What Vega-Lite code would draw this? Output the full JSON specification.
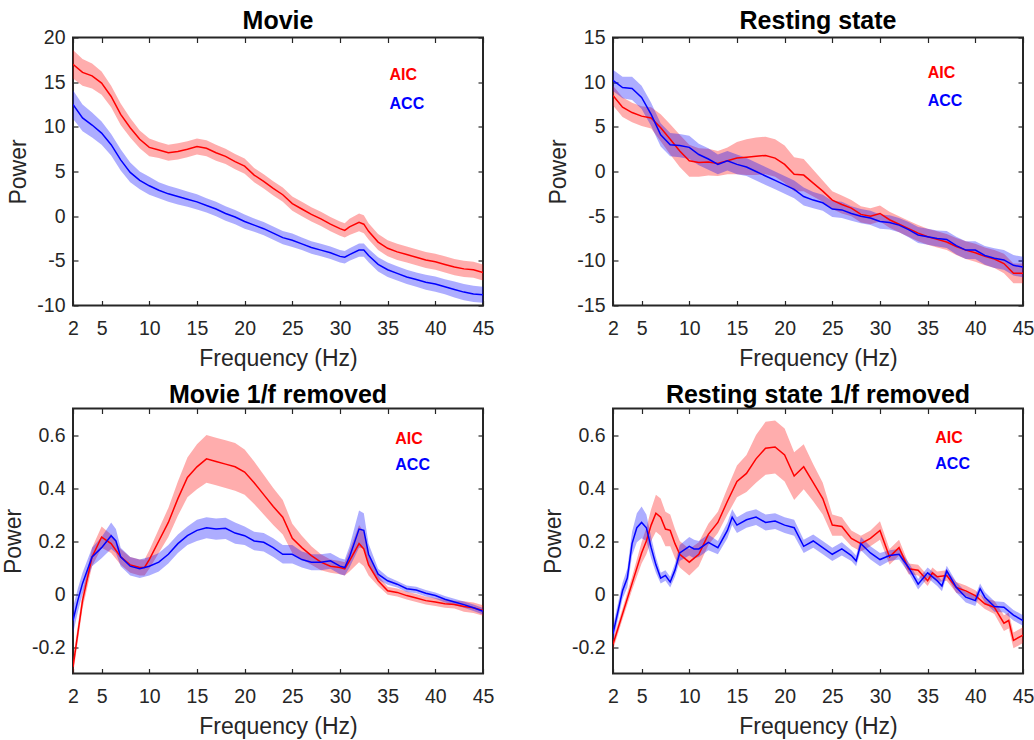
{
"$schema": "https://vega.github.io/schema/vega-lite/v6.json",
"padding": {"left": 1, "top": 7.5, "right": 2, "bottom": 2},
"datasets": {
"mv": [
{"s":"AIC","f":2,"m":17.0,"lo":15.4,"hi":18.6},{"s":"AIC","f":3,"m":16.1,"lo":14.6,"hi":17.6},{"s":"AIC","f":4,"m":15.7,"lo":14.3,"hi":17.1},{"s":"AIC","f":5,"m":14.9,"lo":13.6,"hi":16.2},{"s":"AIC","f":6,"m":13.4,"lo":12.2,"hi":14.6},{"s":"AIC","f":7,"m":11.4,"lo":10.2,"hi":12.6},{"s":"AIC","f":8,"m":9.9,"lo":8.8,"hi":11.0},{"s":"AIC","f":9,"m":8.6,"lo":7.6,"hi":9.6},{"s":"AIC","f":10,"m":7.7,"lo":6.7,"hi":8.7},{"s":"AIC","f":11,"m":7.4,"lo":6.5,"hi":8.3},{"s":"AIC","f":12,"m":7.1,"lo":6.2,"hi":8.0},{"s":"AIC","f":13,"m":7.25,"lo":6.35,"hi":8.15},{"s":"AIC","f":14,"m":7.5,"lo":6.6,"hi":8.4},{"s":"AIC","f":15,"m":7.8,"lo":6.9,"hi":8.7},{"s":"AIC","f":16,"m":7.6,"lo":6.7,"hi":8.5},{"s":"AIC","f":17,"m":7.1,"lo":6.2,"hi":8.0},{"s":"AIC","f":18,"m":6.7,"lo":5.85,"hi":7.55},{"s":"AIC","f":19,"m":6.1,"lo":5.25,"hi":6.95},{"s":"AIC","f":20,"m":5.6,"lo":4.75,"hi":6.45},{"s":"AIC","f":21,"m":4.6,"lo":3.8,"hi":5.4},{"s":"AIC","f":22,"m":3.9,"lo":3.1,"hi":4.7},{"s":"AIC","f":23,"m":3.1,"lo":2.3,"hi":3.9},{"s":"AIC","f":24,"m":2.4,"lo":1.6,"hi":3.2},{"s":"AIC","f":25,"m":1.4,"lo":0.6,"hi":2.2},{"s":"AIC","f":26,"m":0.8,"lo":0.0,"hi":1.6},{"s":"AIC","f":27,"m":0.2,"lo":-0.6,"hi":1.0},{"s":"AIC","f":28,"m":-0.3,"lo":-1.1,"hi":0.5},{"s":"AIC","f":29,"m":-0.9,"lo":-1.7,"hi":-0.1},{"s":"AIC","f":30,"m":-1.4,"lo":-2.2,"hi":-0.6},{"s":"AIC","f":30.5,"m":-1.6,"lo":-2.4,"hi":-0.8},{"s":"AIC","f":31,"m":-1.2,"lo":-2.1,"hi":-0.3},{"s":"AIC","f":32,"m":-0.7,"lo":-1.7,"hi":0.3},{"s":"AIC","f":32.5,"m":-0.9,"lo":-1.9,"hi":0.1},{"s":"AIC","f":33,"m":-1.7,"lo":-2.6,"hi":-0.8},{"s":"AIC","f":34,"m":-2.9,"lo":-3.8,"hi":-2.0},{"s":"AIC","f":35,"m":-3.6,"lo":-4.5,"hi":-2.7},{"s":"AIC","f":36,"m":-4.0,"lo":-4.9,"hi":-3.1},{"s":"AIC","f":37,"m":-4.3,"lo":-5.2,"hi":-3.4},{"s":"AIC","f":38,"m":-4.6,"lo":-5.5,"hi":-3.7},{"s":"AIC","f":39,"m":-4.9,"lo":-5.8,"hi":-4.0},{"s":"AIC","f":40,"m":-5.1,"lo":-6.0,"hi":-4.2},{"s":"AIC","f":41,"m":-5.4,"lo":-6.3,"hi":-4.5},{"s":"AIC","f":42,"m":-5.7,"lo":-6.6,"hi":-4.8},{"s":"AIC","f":43,"m":-5.9,"lo":-6.8,"hi":-5.0},{"s":"AIC","f":44,"m":-6.0,"lo":-6.9,"hi":-5.1},{"s":"AIC","f":45,"m":-6.3,"lo":-7.2,"hi":-5.4},
{"s":"ACC","f":2,"m":12.5,"lo":10.9,"hi":14.1},{"s":"ACC","f":3,"m":11.0,"lo":9.5,"hi":12.5},{"s":"ACC","f":4,"m":10.2,"lo":8.8,"hi":11.6},{"s":"ACC","f":5,"m":9.3,"lo":8.0,"hi":10.6},{"s":"ACC","f":6,"m":8.0,"lo":6.8,"hi":9.2},{"s":"ACC","f":7,"m":6.3,"lo":5.1,"hi":7.5},{"s":"ACC","f":8,"m":4.9,"lo":3.8,"hi":6.0},{"s":"ACC","f":9,"m":4.0,"lo":3.0,"hi":5.0},{"s":"ACC","f":10,"m":3.4,"lo":2.4,"hi":4.4},{"s":"ACC","f":11,"m":2.9,"lo":2.0,"hi":3.8},{"s":"ACC","f":12,"m":2.5,"lo":1.6,"hi":3.4},{"s":"ACC","f":13,"m":2.2,"lo":1.3,"hi":3.1},{"s":"ACC","f":14,"m":1.9,"lo":1.05,"hi":2.75},{"s":"ACC","f":15,"m":1.6,"lo":0.75,"hi":2.45},{"s":"ACC","f":16,"m":1.2,"lo":0.4,"hi":2.0},{"s":"ACC","f":17,"m":0.8,"lo":0.0,"hi":1.6},{"s":"ACC","f":18,"m":0.3,"lo":-0.5,"hi":1.1},{"s":"ACC","f":19,"m":-0.1,"lo":-0.9,"hi":0.7},{"s":"ACC","f":20,"m":-0.6,"lo":-1.4,"hi":0.2},{"s":"ACC","f":21,"m":-1.0,"lo":-1.75,"hi":-0.25},{"s":"ACC","f":22,"m":-1.4,"lo":-2.15,"hi":-0.65},{"s":"ACC","f":23,"m":-1.9,"lo":-2.65,"hi":-1.15},{"s":"ACC","f":24,"m":-2.4,"lo":-3.15,"hi":-1.65},{"s":"ACC","f":25,"m":-2.7,"lo":-3.45,"hi":-1.95},{"s":"ACC","f":26,"m":-3.1,"lo":-3.8,"hi":-2.4},{"s":"ACC","f":27,"m":-3.5,"lo":-4.2,"hi":-2.8},{"s":"ACC","f":28,"m":-3.8,"lo":-4.5,"hi":-3.1},{"s":"ACC","f":29,"m":-4.1,"lo":-4.8,"hi":-3.4},{"s":"ACC","f":30,"m":-4.5,"lo":-5.2,"hi":-3.8},{"s":"ACC","f":30.5,"m":-4.6,"lo":-5.3,"hi":-3.9},{"s":"ACC","f":31,"m":-4.3,"lo":-5.0,"hi":-3.6},{"s":"ACC","f":32,"m":-3.8,"lo":-4.55,"hi":-3.05},{"s":"ACC","f":32.5,"m":-3.8,"lo":-4.55,"hi":-3.05},{"s":"ACC","f":33,"m":-4.4,"lo":-5.15,"hi":-3.65},{"s":"ACC","f":34,"m":-5.4,"lo":-6.2,"hi":-4.6},{"s":"ACC","f":35,"m":-6.0,"lo":-6.8,"hi":-5.2},{"s":"ACC","f":36,"m":-6.4,"lo":-7.2,"hi":-5.6},{"s":"ACC","f":37,"m":-6.8,"lo":-7.6,"hi":-6.0},{"s":"ACC","f":38,"m":-7.1,"lo":-7.9,"hi":-6.3},{"s":"ACC","f":39,"m":-7.4,"lo":-8.25,"hi":-6.55},{"s":"ACC","f":40,"m":-7.6,"lo":-8.45,"hi":-6.75},{"s":"ACC","f":41,"m":-7.9,"lo":-8.75,"hi":-7.05},{"s":"ACC","f":42,"m":-8.2,"lo":-9.1,"hi":-7.3},{"s":"ACC","f":43,"m":-8.5,"lo":-9.4,"hi":-7.6},{"s":"ACC","f":44,"m":-8.7,"lo":-9.6,"hi":-7.8},{"s":"ACC","f":45,"m":-8.8,"lo":-9.7,"hi":-7.9}
],
"rs": [
{"s":"AIC","f":2,"m":8.5,"lo":7.4,"hi":9.6},{"s":"AIC","f":3,"m":7.2,"lo":6.1,"hi":8.3},{"s":"AIC","f":4,"m":6.6,"lo":5.5,"hi":7.7},{"s":"AIC","f":5,"m":6.2,"lo":5.1,"hi":7.3},{"s":"AIC","f":6,"m":6.0,"lo":4.8,"hi":7.2},{"s":"AIC","f":7,"m":4.9,"lo":3.4,"hi":6.4},{"s":"AIC","f":8,"m":3.6,"lo":1.9,"hi":5.3},{"s":"AIC","f":9,"m":2.3,"lo":0.5,"hi":4.1},{"s":"AIC","f":10,"m":1.2,"lo":-0.6,"hi":3.0},{"s":"AIC","f":11,"m":1.0,"lo":-0.6,"hi":2.6},{"s":"AIC","f":12,"m":1.05,"lo":-0.45,"hi":2.55},{"s":"AIC","f":13,"m":0.9,"lo":-0.5,"hi":2.3},{"s":"AIC","f":14,"m":1.2,"lo":-0.3,"hi":2.7},{"s":"AIC","f":15,"m":1.5,"lo":-0.3,"hi":3.3},{"s":"AIC","f":16,"m":1.6,"lo":-0.4,"hi":3.6},{"s":"AIC","f":17,"m":1.7,"lo":-0.4,"hi":3.8},{"s":"AIC","f":18,"m":1.8,"lo":-0.3,"hi":3.9},{"s":"AIC","f":19,"m":1.5,"lo":-0.6,"hi":3.6},{"s":"AIC","f":20,"m":0.8,"lo":-1.3,"hi":2.9},{"s":"AIC","f":21,"m":-0.3,"lo":-2.2,"hi":1.6},{"s":"AIC","f":22,"m":-0.4,"lo":-2.2,"hi":1.4},{"s":"AIC","f":23,"m":-1.3,"lo":-2.8,"hi":0.2},{"s":"AIC","f":24,"m":-2.2,"lo":-3.4,"hi":-1.0},{"s":"AIC","f":25,"m":-3.2,"lo":-4.2,"hi":-2.2},{"s":"AIC","f":26,"m":-3.7,"lo":-4.7,"hi":-2.7},{"s":"AIC","f":27,"m":-4.1,"lo":-5.0,"hi":-3.2},{"s":"AIC","f":28,"m":-4.8,"lo":-5.7,"hi":-3.9},{"s":"AIC","f":29,"m":-5.0,"lo":-5.9,"hi":-4.1},{"s":"AIC","f":30,"m":-4.7,"lo":-5.6,"hi":-3.8},{"s":"AIC","f":31,"m":-5.4,"lo":-6.3,"hi":-4.5},{"s":"AIC","f":32,"m":-5.9,"lo":-6.8,"hi":-5.0},{"s":"AIC","f":33,"m":-6.4,"lo":-7.3,"hi":-5.5},{"s":"AIC","f":34,"m":-6.9,"lo":-7.8,"hi":-6.0},{"s":"AIC","f":35,"m":-7.3,"lo":-8.2,"hi":-6.4},{"s":"AIC","f":36,"m":-7.6,"lo":-8.5,"hi":-6.7},{"s":"AIC","f":37,"m":-7.9,"lo":-8.8,"hi":-7.0},{"s":"AIC","f":38,"m":-8.4,"lo":-9.35,"hi":-7.45},{"s":"AIC","f":39,"m":-8.8,"lo":-9.8,"hi":-7.8},{"s":"AIC","f":40,"m":-9.1,"lo":-10.1,"hi":-8.1},{"s":"AIC","f":41,"m":-9.5,"lo":-10.5,"hi":-8.5},{"s":"AIC","f":42,"m":-9.8,"lo":-10.8,"hi":-8.8},{"s":"AIC","f":43,"m":-10.3,"lo":-11.4,"hi":-9.2},{"s":"AIC","f":44,"m":-11.4,"lo":-12.5,"hi":-10.3},{"s":"AIC","f":45,"m":-11.4,"lo":-12.5,"hi":-10.3},
{"s":"ACC","f":2,"m":10.2,"lo":9.0,"hi":11.4},{"s":"ACC","f":3,"m":9.4,"lo":8.2,"hi":10.6},{"s":"ACC","f":4,"m":9.3,"lo":8.0,"hi":10.6},{"s":"ACC","f":5,"m":8.3,"lo":7.0,"hi":9.6},{"s":"ACC","f":6,"m":6.4,"lo":5.1,"hi":7.7},{"s":"ACC","f":7,"m":4.1,"lo":2.8,"hi":5.4},{"s":"ACC","f":8,"m":3.0,"lo":1.7,"hi":4.3},{"s":"ACC","f":9,"m":2.9,"lo":1.6,"hi":4.2},{"s":"ACC","f":10,"m":2.7,"lo":1.4,"hi":4.0},{"s":"ACC","f":11,"m":1.9,"lo":0.7,"hi":3.1},{"s":"ACC","f":12,"m":1.4,"lo":0.2,"hi":2.6},{"s":"ACC","f":13,"m":0.8,"lo":-0.3,"hi":1.9},{"s":"ACC","f":14,"m":1.2,"lo":0.1,"hi":2.3},{"s":"ACC","f":15,"m":0.8,"lo":-0.3,"hi":1.9},{"s":"ACC","f":16,"m":0.5,"lo":-0.5,"hi":1.5},{"s":"ACC","f":17,"m":0.0,"lo":-1.0,"hi":1.0},{"s":"ACC","f":18,"m":-0.5,"lo":-1.5,"hi":0.5},{"s":"ACC","f":19,"m":-1.0,"lo":-2.0,"hi":0.0},{"s":"ACC","f":20,"m":-1.5,"lo":-2.5,"hi":-0.5},{"s":"ACC","f":21,"m":-2.0,"lo":-3.0,"hi":-1.0},{"s":"ACC","f":22,"m":-2.8,"lo":-3.8,"hi":-1.8},{"s":"ACC","f":23,"m":-3.2,"lo":-4.1,"hi":-2.3},{"s":"ACC","f":24,"m":-3.5,"lo":-4.4,"hi":-2.6},{"s":"ACC","f":25,"m":-4.2,"lo":-5.1,"hi":-3.3},{"s":"ACC","f":26,"m":-4.3,"lo":-5.2,"hi":-3.4},{"s":"ACC","f":27,"m":-4.7,"lo":-5.5,"hi":-3.9},{"s":"ACC","f":28,"m":-5.0,"lo":-5.8,"hi":-4.2},{"s":"ACC","f":29,"m":-5.2,"lo":-6.0,"hi":-4.4},{"s":"ACC","f":30,"m":-5.6,"lo":-6.4,"hi":-4.8},{"s":"ACC","f":31,"m":-5.7,"lo":-6.5,"hi":-4.9},{"s":"ACC","f":32,"m":-6.0,"lo":-6.8,"hi":-5.2},{"s":"ACC","f":33,"m":-6.5,"lo":-7.35,"hi":-5.65},{"s":"ACC","f":34,"m":-7.1,"lo":-8.0,"hi":-6.2},{"s":"ACC","f":35,"m":-7.3,"lo":-8.2,"hi":-6.4},{"s":"ACC","f":36,"m":-7.5,"lo":-8.4,"hi":-6.6},{"s":"ACC","f":37,"m":-7.6,"lo":-8.55,"hi":-6.65},{"s":"ACC","f":38,"m":-8.3,"lo":-9.3,"hi":-7.3},{"s":"ACC","f":39,"m":-8.8,"lo":-9.8,"hi":-7.8},{"s":"ACC","f":40,"m":-8.8,"lo":-9.8,"hi":-7.8},{"s":"ACC","f":41,"m":-9.4,"lo":-10.45,"hi":-8.35},{"s":"ACC","f":42,"m":-9.7,"lo":-10.8,"hi":-8.6},{"s":"ACC","f":43,"m":-9.9,"lo":-11.0,"hi":-8.8},{"s":"ACC","f":44,"m":-10.5,"lo":-11.65,"hi":-9.35},{"s":"ACC","f":45,"m":-10.7,"lo":-11.85,"hi":-9.55}
],
"mvf": [
{"s":"AIC","f":2,"m":-0.275,"lo":-0.305,"hi":-0.245},{"s":"AIC","f":2.5,"m":-0.15,"lo":-0.18,"hi":-0.12},{"s":"AIC","f":3,"m":-0.025,"lo":-0.055,"hi":0.005},{"s":"AIC","f":4,"m":0.14,"lo":0.105,"hi":0.175},{"s":"AIC","f":5,"m":0.215,"lo":0.175,"hi":0.255},{"s":"AIC","f":6,"m":0.19,"lo":0.155,"hi":0.225},{"s":"AIC","f":7,"m":0.14,"lo":0.11,"hi":0.17},{"s":"AIC","f":8,"m":0.11,"lo":0.08,"hi":0.14},{"s":"AIC","f":9,"m":0.1,"lo":0.07,"hi":0.13},{"s":"AIC","f":9.5,"m":0.1,"lo":0.07,"hi":0.13},{"s":"AIC","f":10,"m":0.13,"lo":0.095,"hi":0.165},{"s":"AIC","f":11,"m":0.2,"lo":0.155,"hi":0.245},{"s":"AIC","f":12,"m":0.27,"lo":0.215,"hi":0.325},{"s":"AIC","f":13,"m":0.36,"lo":0.295,"hi":0.425},{"s":"AIC","f":14,"m":0.44,"lo":0.365,"hi":0.515},{"s":"AIC","f":15,"m":0.48,"lo":0.395,"hi":0.565},{"s":"AIC","f":16,"m":0.51,"lo":0.42,"hi":0.6},{"s":"AIC","f":17,"m":0.5,"lo":0.41,"hi":0.59},{"s":"AIC","f":18,"m":0.49,"lo":0.4,"hi":0.58},{"s":"AIC","f":19,"m":0.48,"lo":0.39,"hi":0.57},{"s":"AIC","f":20,"m":0.46,"lo":0.375,"hi":0.545},{"s":"AIC","f":21,"m":0.42,"lo":0.34,"hi":0.5},{"s":"AIC","f":22,"m":0.375,"lo":0.3,"hi":0.45},{"s":"AIC","f":23,"m":0.33,"lo":0.26,"hi":0.4},{"s":"AIC","f":24,"m":0.29,"lo":0.225,"hi":0.355},{"s":"AIC","f":25,"m":0.21,"lo":0.155,"hi":0.265},{"s":"AIC","f":26,"m":0.175,"lo":0.13,"hi":0.22},{"s":"AIC","f":27,"m":0.145,"lo":0.11,"hi":0.18},{"s":"AIC","f":28,"m":0.12,"lo":0.09,"hi":0.15},{"s":"AIC","f":29,"m":0.105,"lo":0.08,"hi":0.13},{"s":"AIC","f":30,"m":0.1,"lo":0.075,"hi":0.125},{"s":"AIC","f":30.5,"m":0.095,"lo":0.07,"hi":0.12},{"s":"AIC","f":31,"m":0.125,"lo":0.085,"hi":0.165},{"s":"AIC","f":32,"m":0.19,"lo":0.12,"hi":0.26},{"s":"AIC","f":32.5,"m":0.17,"lo":0.105,"hi":0.235},{"s":"AIC","f":33,"m":0.11,"lo":0.07,"hi":0.15},{"s":"AIC","f":34,"m":0.05,"lo":0.03,"hi":0.07},{"s":"AIC","f":35,"m":0.012,"lo":-0.003,"hi":0.027},{"s":"AIC","f":36,"m":0.006,"lo":-0.009,"hi":0.021},{"s":"AIC","f":37,"m":-0.006,"lo":-0.021,"hi":0.009},{"s":"AIC","f":38,"m":-0.015,"lo":-0.03,"hi":0.0},{"s":"AIC","f":39,"m":-0.025,"lo":-0.04,"hi":-0.01},{"s":"AIC","f":40,"m":-0.03,"lo":-0.045,"hi":-0.015},{"s":"AIC","f":41,"m":-0.037,"lo":-0.052,"hi":-0.022},{"s":"AIC","f":42,"m":-0.04,"lo":-0.055,"hi":-0.025},{"s":"AIC","f":43,"m":-0.047,"lo":-0.067,"hi":-0.027},{"s":"AIC","f":44,"m":-0.052,"lo":-0.072,"hi":-0.032},{"s":"AIC","f":45,"m":-0.062,"lo":-0.082,"hi":-0.042},
{"s":"ACC","f":2,"m":-0.1,"lo":-0.15,"hi":-0.05},{"s":"ACC","f":2.5,"m":-0.025,"lo":-0.07,"hi":0.02},{"s":"ACC","f":3,"m":0.04,"lo":0.0,"hi":0.08},{"s":"ACC","f":4,"m":0.14,"lo":0.105,"hi":0.175},{"s":"ACC","f":5,"m":0.175,"lo":0.135,"hi":0.215},{"s":"ACC","f":6,"m":0.22,"lo":0.17,"hi":0.27},{"s":"ACC","f":6.5,"m":0.2,"lo":0.155,"hi":0.245},{"s":"ACC","f":7,"m":0.14,"lo":0.105,"hi":0.175},{"s":"ACC","f":8,"m":0.105,"lo":0.07,"hi":0.14},{"s":"ACC","f":9,"m":0.095,"lo":0.06,"hi":0.13},{"s":"ACC","f":10,"m":0.105,"lo":0.07,"hi":0.14},{"s":"ACC","f":11,"m":0.12,"lo":0.085,"hi":0.155},{"s":"ACC","f":12,"m":0.15,"lo":0.115,"hi":0.185},{"s":"ACC","f":13,"m":0.19,"lo":0.155,"hi":0.225},{"s":"ACC","f":14,"m":0.22,"lo":0.185,"hi":0.255},{"s":"ACC","f":15,"m":0.24,"lo":0.2,"hi":0.28},{"s":"ACC","f":16,"m":0.25,"lo":0.21,"hi":0.29},{"s":"ACC","f":17,"m":0.245,"lo":0.205,"hi":0.285},{"s":"ACC","f":18,"m":0.248,"lo":0.208,"hi":0.288},{"s":"ACC","f":19,"m":0.23,"lo":0.19,"hi":0.27},{"s":"ACC","f":20,"m":0.22,"lo":0.185,"hi":0.255},{"s":"ACC","f":21,"m":0.2,"lo":0.165,"hi":0.235},{"s":"ACC","f":22,"m":0.195,"lo":0.16,"hi":0.23},{"s":"ACC","f":23,"m":0.175,"lo":0.14,"hi":0.21},{"s":"ACC","f":24,"m":0.15,"lo":0.115,"hi":0.185},{"s":"ACC","f":25,"m":0.15,"lo":0.115,"hi":0.185},{"s":"ACC","f":26,"m":0.13,"lo":0.1,"hi":0.16},{"s":"ACC","f":27,"m":0.12,"lo":0.09,"hi":0.15},{"s":"ACC","f":28,"m":0.12,"lo":0.09,"hi":0.15},{"s":"ACC","f":29,"m":0.125,"lo":0.095,"hi":0.155},{"s":"ACC","f":30,"m":0.105,"lo":0.075,"hi":0.135},{"s":"ACC","f":30.5,"m":0.1,"lo":0.07,"hi":0.13},{"s":"ACC","f":31,"m":0.14,"lo":0.1,"hi":0.18},{"s":"ACC","f":32,"m":0.245,"lo":0.175,"hi":0.315},{"s":"ACC","f":32.5,"m":0.24,"lo":0.175,"hi":0.305},{"s":"ACC","f":33,"m":0.15,"lo":0.11,"hi":0.19},{"s":"ACC","f":34,"m":0.075,"lo":0.055,"hi":0.095},{"s":"ACC","f":35,"m":0.05,"lo":0.035,"hi":0.065},{"s":"ACC","f":36,"m":0.037,"lo":0.025,"hi":0.049},{"s":"ACC","f":37,"m":0.02,"lo":0.008,"hi":0.032},{"s":"ACC","f":38,"m":0.015,"lo":0.003,"hi":0.027},{"s":"ACC","f":39,"m":0.003,"lo":-0.009,"hi":0.015},{"s":"ACC","f":40,"m":-0.006,"lo":-0.018,"hi":0.006},{"s":"ACC","f":41,"m":-0.02,"lo":-0.032,"hi":-0.008},{"s":"ACC","f":42,"m":-0.03,"lo":-0.042,"hi":-0.018},{"s":"ACC","f":43,"m":-0.04,"lo":-0.052,"hi":-0.028},{"s":"ACC","f":44,"m":-0.052,"lo":-0.064,"hi":-0.04},{"s":"ACC","f":45,"m":-0.065,"lo":-0.077,"hi":-0.053}
],
"rsf": [
{"s":"AIC","f":2,"m":-0.19,"lo":-0.21,"hi":-0.17},{"s":"AIC","f":3,"m":-0.075,"lo":-0.095,"hi":-0.055},{"s":"AIC","f":4,"m":0.04,"lo":0.015,"hi":0.065},{"s":"AIC","f":5,"m":0.155,"lo":0.115,"hi":0.195},{"s":"AIC","f":5.5,"m":0.2,"lo":0.15,"hi":0.25},{"s":"AIC","f":6,"m":0.26,"lo":0.2,"hi":0.32},{"s":"AIC","f":6.5,"m":0.305,"lo":0.235,"hi":0.375},{"s":"AIC","f":7,"m":0.29,"lo":0.22,"hi":0.36},{"s":"AIC","f":7.5,"m":0.245,"lo":0.18,"hi":0.31},{"s":"AIC","f":8,"m":0.24,"lo":0.18,"hi":0.3},{"s":"AIC","f":8.5,"m":0.19,"lo":0.135,"hi":0.245},{"s":"AIC","f":9,"m":0.15,"lo":0.1,"hi":0.2},{"s":"AIC","f":10,"m":0.12,"lo":0.07,"hi":0.17},{"s":"AIC","f":11,"m":0.15,"lo":0.105,"hi":0.195},{"s":"AIC","f":12,"m":0.225,"lo":0.185,"hi":0.265},{"s":"AIC","f":13,"m":0.27,"lo":0.23,"hi":0.31},{"s":"AIC","f":14,"m":0.35,"lo":0.3,"hi":0.4},{"s":"AIC","f":15,"m":0.425,"lo":0.365,"hi":0.485},{"s":"AIC","f":16,"m":0.455,"lo":0.385,"hi":0.525},{"s":"AIC","f":17,"m":0.51,"lo":0.42,"hi":0.6},{"s":"AIC","f":18,"m":0.55,"lo":0.45,"hi":0.65},{"s":"AIC","f":19,"m":0.555,"lo":0.455,"hi":0.655},{"s":"AIC","f":20,"m":0.525,"lo":0.425,"hi":0.625},{"s":"AIC","f":21,"m":0.445,"lo":0.355,"hi":0.535},{"s":"AIC","f":22,"m":0.48,"lo":0.395,"hi":0.565},{"s":"AIC","f":23,"m":0.42,"lo":0.35,"hi":0.49},{"s":"AIC","f":24,"m":0.36,"lo":0.3,"hi":0.42},{"s":"AIC","f":25,"m":0.26,"lo":0.22,"hi":0.3},{"s":"AIC","f":26,"m":0.255,"lo":0.22,"hi":0.29},{"s":"AIC","f":27,"m":0.21,"lo":0.18,"hi":0.24},{"s":"AIC","f":28,"m":0.19,"lo":0.16,"hi":0.22},{"s":"AIC","f":29,"m":0.21,"lo":0.18,"hi":0.24},{"s":"AIC","f":30,"m":0.24,"lo":0.205,"hi":0.275},{"s":"AIC","f":31,"m":0.14,"lo":0.11,"hi":0.17},{"s":"AIC","f":32,"m":0.175,"lo":0.145,"hi":0.205},{"s":"AIC","f":33,"m":0.095,"lo":0.075,"hi":0.115},{"s":"AIC","f":34,"m":0.09,"lo":0.07,"hi":0.11},{"s":"AIC","f":35,"m":0.05,"lo":0.03,"hi":0.07},{"s":"AIC","f":35.5,"m":0.08,"lo":0.06,"hi":0.1},{"s":"AIC","f":36,"m":0.065,"lo":0.045,"hi":0.085},{"s":"AIC","f":37,"m":0.07,"lo":0.05,"hi":0.09},{"s":"AIC","f":38,"m":0.025,"lo":0.005,"hi":0.045},{"s":"AIC","f":39,"m":0.012,"lo":-0.008,"hi":0.032},{"s":"AIC","f":40,"m":-0.006,"lo":-0.026,"hi":0.014},{"s":"AIC","f":41,"m":-0.037,"lo":-0.057,"hi":-0.017},{"s":"AIC","f":42,"m":-0.05,"lo":-0.075,"hi":-0.025},{"s":"AIC","f":43,"m":-0.11,"lo":-0.14,"hi":-0.08},{"s":"AIC","f":43.5,"m":-0.1,"lo":-0.13,"hi":-0.07},{"s":"AIC","f":44,"m":-0.175,"lo":-0.205,"hi":-0.145},{"s":"AIC","f":45,"m":-0.155,"lo":-0.185,"hi":-0.125},
{"s":"ACC","f":2,"m":-0.15,"lo":-0.18,"hi":-0.12},{"s":"ACC","f":3,"m":0.012,"lo":-0.018,"hi":0.042},{"s":"ACC","f":3.5,"m":0.06,"lo":0.025,"hi":0.095},{"s":"ACC","f":4,"m":0.19,"lo":0.145,"hi":0.235},{"s":"ACC","f":4.5,"m":0.25,"lo":0.195,"hi":0.305},{"s":"ACC","f":5,"m":0.27,"lo":0.21,"hi":0.33},{"s":"ACC","f":5.5,"m":0.25,"lo":0.2,"hi":0.3},{"s":"ACC","f":6,"m":0.175,"lo":0.135,"hi":0.215},{"s":"ACC","f":6.5,"m":0.11,"lo":0.08,"hi":0.14},{"s":"ACC","f":7,"m":0.06,"lo":0.04,"hi":0.08},{"s":"ACC","f":7.5,"m":0.07,"lo":0.05,"hi":0.09},{"s":"ACC","f":8,"m":0.045,"lo":0.025,"hi":0.065},{"s":"ACC","f":8.5,"m":0.09,"lo":0.065,"hi":0.115},{"s":"ACC","f":9,"m":0.155,"lo":0.125,"hi":0.185},{"s":"ACC","f":10,"m":0.18,"lo":0.145,"hi":0.215},{"s":"ACC","f":10.5,"m":0.17,"lo":0.135,"hi":0.205},{"s":"ACC","f":11,"m":0.17,"lo":0.14,"hi":0.2},{"s":"ACC","f":12,"m":0.195,"lo":0.165,"hi":0.225},{"s":"ACC","f":13,"m":0.175,"lo":0.15,"hi":0.2},{"s":"ACC","f":14,"m":0.24,"lo":0.21,"hi":0.27},{"s":"ACC","f":14.5,"m":0.29,"lo":0.26,"hi":0.32},{"s":"ACC","f":15,"m":0.26,"lo":0.23,"hi":0.29},{"s":"ACC","f":16,"m":0.28,"lo":0.25,"hi":0.31},{"s":"ACC","f":17,"m":0.29,"lo":0.26,"hi":0.32},{"s":"ACC","f":18,"m":0.27,"lo":0.24,"hi":0.3},{"s":"ACC","f":19,"m":0.275,"lo":0.245,"hi":0.305},{"s":"ACC","f":20,"m":0.26,"lo":0.23,"hi":0.29},{"s":"ACC","f":21,"m":0.25,"lo":0.22,"hi":0.28},{"s":"ACC","f":22,"m":0.18,"lo":0.155,"hi":0.205},{"s":"ACC","f":23,"m":0.2,"lo":0.175,"hi":0.225},{"s":"ACC","f":24,"m":0.175,"lo":0.15,"hi":0.2},{"s":"ACC","f":25,"m":0.15,"lo":0.125,"hi":0.175},{"s":"ACC","f":26,"m":0.17,"lo":0.145,"hi":0.195},{"s":"ACC","f":27,"m":0.145,"lo":0.125,"hi":0.165},{"s":"ACC","f":27.5,"m":0.125,"lo":0.105,"hi":0.145},{"s":"ACC","f":28,"m":0.19,"lo":0.165,"hi":0.215},{"s":"ACC","f":29,"m":0.155,"lo":0.13,"hi":0.18},{"s":"ACC","f":30,"m":0.13,"lo":0.105,"hi":0.155},{"s":"ACC","f":31,"m":0.145,"lo":0.125,"hi":0.165},{"s":"ACC","f":32,"m":0.15,"lo":0.13,"hi":0.17},{"s":"ACC","f":33,"m":0.1,"lo":0.08,"hi":0.12},{"s":"ACC","f":34,"m":0.037,"lo":0.017,"hi":0.057},{"s":"ACC","f":35,"m":0.08,"lo":0.06,"hi":0.1},{"s":"ACC","f":36,"m":0.05,"lo":0.03,"hi":0.07},{"s":"ACC","f":36.5,"m":0.03,"lo":0.01,"hi":0.05},{"s":"ACC","f":37,"m":0.087,"lo":0.067,"hi":0.107},{"s":"ACC","f":38,"m":0.025,"lo":0.005,"hi":0.045},{"s":"ACC","f":39,"m":-0.012,"lo":-0.032,"hi":0.008},{"s":"ACC","f":40,"m":-0.025,"lo":-0.045,"hi":-0.005},{"s":"ACC","f":40.5,"m":0.02,"lo":0.0,"hi":0.04},{"s":"ACC","f":41,"m":-0.012,"lo":-0.032,"hi":0.008},{"s":"ACC","f":42,"m":-0.047,"lo":-0.067,"hi":-0.027},{"s":"ACC","f":43,"m":-0.05,"lo":-0.07,"hi":-0.03},{"s":"ACC","f":44,"m":-0.08,"lo":-0.1,"hi":-0.06},{"s":"ACC","f":45,"m":-0.1,"lo":-0.12,"hi":-0.08}
]
},
"concat": [
{"title": {"text": "Movie", "offset": -6}, "width": 410, "height": 268, "data": {"name": "mv"},
 "layer": [
  {"mark": {"type": "area", "opacity": 0.32, "clip": true},
   "encoding": {
    "x": {"field": "f", "type": "quantitative", "scale": {"domain": [2, 45], "nice": false, "zero": false}, "axis": {"values": [2,5,10,15,20,25,30,35,40,45], "title": "Frequency (Hz)", "labelExpr": "toString(datum.value)"}},
    "y": {"field": "lo", "type": "quantitative", "scale": {"domain": [-10, 20], "nice": false, "zero": false}, "axis": {"values": [-10,-5,0,5,10,15,20], "title": "Power", "labelExpr": "toString(datum.value)"}},
    "y2": {"field": "hi"},
    "color": {"field": "s", "type": "nominal", "scale": {"domain": ["AIC", "ACC"], "range": ["#ff0000", "#0000ff"]}, "legend": null}}},
  {"mark": {"type": "line", "strokeWidth": 1.5, "clip": true},
   "encoding": {
    "x": {"field": "f", "type": "quantitative", "axis": null},
    "y": {"field": "m", "type": "quantitative", "axis": null},
    "color": {"field": "s", "type": "nominal", "legend": null}}},
  {"data": {"values": [{"s": "AIC", "f": 35.2, "m": 15.75}, {"s": "ACC", "f": 35.2, "m": 12.6}]},
   "mark": {"type": "text", "align": "left", "baseline": "middle", "fontSize": 16, "fontWeight": "bold"},
   "encoding": {
    "x": {"field": "f", "type": "quantitative", "axis": {"orient": "top", "values": [2,5,10,15,20,25,30,35,40,45], "labels": false, "title": null}},
    "y": {"field": "m", "type": "quantitative", "axis": {"orient": "right", "values": [-10,-5,0,5,10,15,20], "labels": false, "title": null}},
    "text": {"field": "s"},
    "color": {"field": "s", "type": "nominal", "legend": null}}}
 ],
 "resolve": {"axis": {"x": "independent", "y": "independent"}}
},
{"title": {"text": "Resting state", "offset": -6}, "width": 410, "height": 268, "data": {"name": "rs"},
 "layer": [
  {"mark": {"type": "area", "opacity": 0.32, "clip": true},
   "encoding": {
    "x": {"field": "f", "type": "quantitative", "scale": {"domain": [2, 45], "nice": false, "zero": false}, "axis": {"values": [2,5,10,15,20,25,30,35,40,45], "title": "Frequency (Hz)", "labelExpr": "toString(datum.value)"}},
    "y": {"field": "lo", "type": "quantitative", "scale": {"domain": [-15, 15], "nice": false, "zero": false}, "axis": {"values": [-15,-10,-5,0,5,10,15], "title": "Power", "labelExpr": "toString(datum.value)"}},
    "y2": {"field": "hi"},
    "color": {"field": "s", "type": "nominal", "scale": {"domain": ["AIC", "ACC"], "range": ["#ff0000", "#0000ff"]}, "legend": null}}},
  {"mark": {"type": "line", "strokeWidth": 1.5, "clip": true},
   "encoding": {
    "x": {"field": "f", "type": "quantitative", "axis": null},
    "y": {"field": "m", "type": "quantitative", "axis": null},
    "color": {"field": "s", "type": "nominal", "legend": null}}},
  {"data": {"values": [{"s": "AIC", "f": 35.0, "m": 11.0}, {"s": "ACC", "f": 35.0, "m": 7.9}]},
   "mark": {"type": "text", "align": "left", "baseline": "middle", "fontSize": 16, "fontWeight": "bold"},
   "encoding": {
    "x": {"field": "f", "type": "quantitative", "axis": {"orient": "top", "values": [2,5,10,15,20,25,30,35,40,45], "labels": false, "title": null}},
    "y": {"field": "m", "type": "quantitative", "axis": {"orient": "right", "values": [-15,-10,-5,0,5,10,15], "labels": false, "title": null}},
    "text": {"field": "s"},
    "color": {"field": "s", "type": "nominal", "legend": null}}}
 ],
 "resolve": {"axis": {"x": "independent", "y": "independent"}}
},
{"title": {"text": "Movie 1/f removed", "offset": 0}, "width": 410, "height": 265, "data": {"name": "mvf"},
 "layer": [
  {"mark": {"type": "area", "opacity": 0.32, "clip": true},
   "encoding": {
    "x": {"field": "f", "type": "quantitative", "scale": {"domain": [2, 45], "nice": false, "zero": false}, "axis": {"values": [2,5,10,15,20,25,30,35,40,45], "title": "Frequency (Hz)", "labelExpr": "toString(datum.value)"}},
    "y": {"field": "lo", "type": "quantitative", "scale": {"domain": [-0.3, 0.7], "nice": false, "zero": false}, "axis": {"values": [-0.2,0,0.2,0.4,0.6], "title": "Power", "labelExpr": "toString(datum.value)"}},
    "y2": {"field": "hi"},
    "color": {"field": "s", "type": "nominal", "scale": {"domain": ["AIC", "ACC"], "range": ["#ff0000", "#0000ff"]}, "legend": null}}},
  {"mark": {"type": "line", "strokeWidth": 1.5, "clip": true},
   "encoding": {
    "x": {"field": "f", "type": "quantitative", "axis": null},
    "y": {"field": "m", "type": "quantitative", "axis": null},
    "color": {"field": "s", "type": "nominal", "legend": null}}},
  {"data": {"values": [{"s": "AIC", "f": 35.8, "m": 0.584}, {"s": "ACC", "f": 35.8, "m": 0.485}]},
   "mark": {"type": "text", "align": "left", "baseline": "middle", "fontSize": 16, "fontWeight": "bold"},
   "encoding": {
    "x": {"field": "f", "type": "quantitative", "axis": {"orient": "top", "values": [2,5,10,15,20,25,30,35,40,45], "labels": false, "title": null}},
    "y": {"field": "m", "type": "quantitative", "axis": {"orient": "right", "values": [-0.2,0,0.2,0.4,0.6], "labels": false, "title": null}},
    "text": {"field": "s"},
    "color": {"field": "s", "type": "nominal", "legend": null}}}
 ],
 "resolve": {"axis": {"x": "independent", "y": "independent"}}
},
{"title": {"text": "Resting state 1/f removed", "offset": 0}, "width": 410, "height": 265, "data": {"name": "rsf"},
 "layer": [
  {"mark": {"type": "area", "opacity": 0.32, "clip": true},
   "encoding": {
    "x": {"field": "f", "type": "quantitative", "scale": {"domain": [2, 45], "nice": false, "zero": false}, "axis": {"values": [2,5,10,15,20,25,30,35,40,45], "title": "Frequency (Hz)", "labelExpr": "toString(datum.value)"}},
    "y": {"field": "lo", "type": "quantitative", "scale": {"domain": [-0.3, 0.7], "nice": false, "zero": false}, "axis": {"values": [-0.2,0,0.2,0.4,0.6], "title": "Power", "labelExpr": "toString(datum.value)"}},
    "y2": {"field": "hi"},
    "color": {"field": "s", "type": "nominal", "scale": {"domain": ["AIC", "ACC"], "range": ["#ff0000", "#0000ff"]}, "legend": null}}},
  {"mark": {"type": "line", "strokeWidth": 1.5, "clip": true},
   "encoding": {
    "x": {"field": "f", "type": "quantitative", "axis": null},
    "y": {"field": "m", "type": "quantitative", "axis": null},
    "color": {"field": "s", "type": "nominal", "legend": null}}},
  {"data": {"values": [{"s": "AIC", "f": 35.8, "m": 0.59}, {"s": "ACC", "f": 35.8, "m": 0.49}]},
   "mark": {"type": "text", "align": "left", "baseline": "middle", "fontSize": 16, "fontWeight": "bold"},
   "encoding": {
    "x": {"field": "f", "type": "quantitative", "axis": {"orient": "top", "values": [2,5,10,15,20,25,30,35,40,45], "labels": false, "title": null}},
    "y": {"field": "m", "type": "quantitative", "axis": {"orient": "right", "values": [-0.2,0,0.2,0.4,0.6], "labels": false, "title": null}},
    "text": {"field": "s"},
    "color": {"field": "s", "type": "nominal", "legend": null}}}
 ],
 "resolve": {"axis": {"x": "independent", "y": "independent"}}
}
],
"columns": 2,
"spacing": {"row": 10, "column": 46},
"config": {
 "font": "Liberation Sans",
 "view": {"stroke": "#262626", "strokeWidth": 2},
 "axis": {"grid": false, "domain": false, "tickSize": -5, "tickColor": "#262626", "tickWidth": 1.2, "labelFontSize": 19.5, "labelColor": "#262626", "labelFont": "Liberation Sans", "titleFont": "Liberation Sans", "titleFontSize": 23, "titleFontWeight": "normal", "titleColor": "#262626", "labelFlush": false, "labelOverlap": false, "labelPadding": 13, "titlePadding": 6},
 "axisX": {"labelPadding": 19, "titlePadding": 9},
 "title": {"font": "Liberation Sans", "fontSize": 25, "fontWeight": "bold", "color": "#000000"}
}
}
